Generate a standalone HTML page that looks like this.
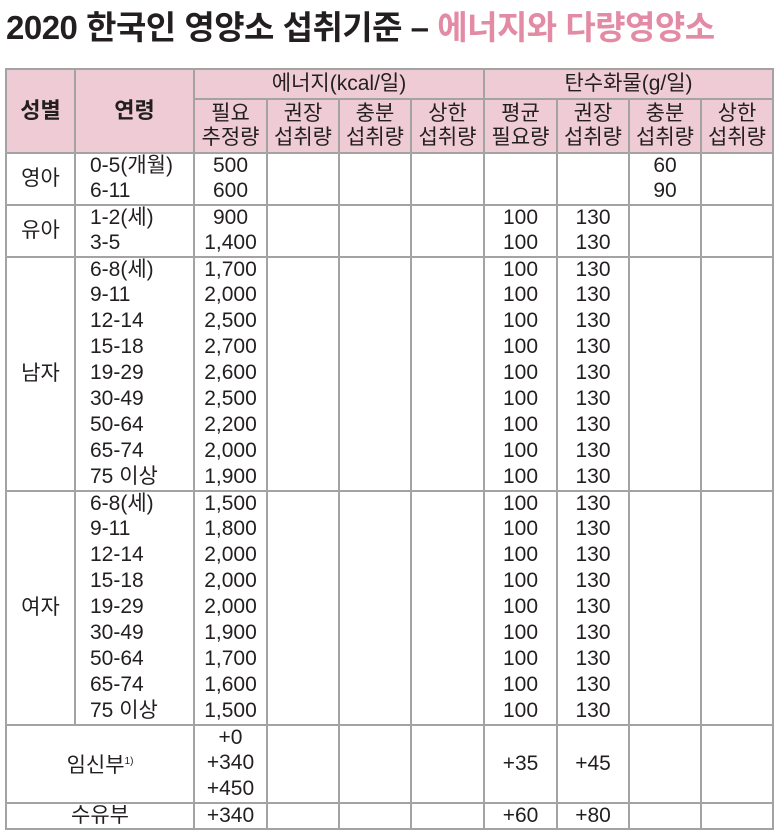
<!DOCTYPE html>
<html><head><meta charset="utf-8"><style>
body{margin:0;width:774px;height:828px;background:#fff;overflow:hidden;font-family:"Liberation Sans","Noto Sans CJK KR",sans-serif;color:#231f20}
h1{position:absolute;left:6px;top:1px;margin:0;font-size:33px;font-weight:bold;letter-spacing:-0.5px;white-space:nowrap}
h1 span{color:#e38aa5}
table{position:absolute;left:5px;top:68px;border-collapse:collapse;table-layout:fixed;font-size:21px}
td,th{border-left:2px solid #a3a3a3;border-right:2px solid #a3a3a3;padding:0;height:26px;line-height:24px;text-align:center;white-space:nowrap;overflow:hidden}
th{background:#eecbd5;font-weight:normal;border:2px solid #a3a3a3;line-height:24px}
tr.g td{border-top:2px solid #a3a3a3;height:24px}
tr.last td{border-bottom:2px solid #a3a3a3}
td.age{text-align:left;padding-left:14px}
.b{font-weight:bold;font-size:22px}
</style></head><body>
<h1>2020 한국인 영양소 섭취기준 – <span>에너지와 다량영양소</span></h1>
<table>
<colgroup><col style="width:69px"><col style="width:119px"><col style="width:73px"><col style="width:72px"><col style="width:72px"><col style="width:73px"><col style="width:73px"><col style="width:72px"><col style="width:72px"><col style="width:72px"></colgroup>
<tr style="height:30px"><th rowspan="2" class="b">성별</th><th rowspan="2" class="b">연령</th><th colspan="4" style="height:28px">에너지(kcal/일)</th><th colspan="4">탄수화물(g/일)</th></tr>
<tr style="height:54px"><th>필요<br>추정량</th><th>권장<br>섭취량</th><th>충분<br>섭취량</th><th>상한<br>섭취량</th><th>평균<br>필요량</th><th>권장<br>섭취량</th><th>충분<br>섭취량</th><th>상한<br>섭취량</th></tr>
<tbody id="body"></tbody>
</table>
<script>
const groups=[
 ["영아",[["0-5(개월)","500","","","60"],["6-11","600","","","90"]]],
 ["유아",[["1-2(세)","900","100","130",""],["3-5","1,400","100","130",""]]],
 ["남자",[["6-8(세)","1,700"],["9-11","2,000"],["12-14","2,500"],["15-18","2,700"],["19-29","2,600"],["30-49","2,500"],["50-64","2,200"],["65-74","2,000"],["75 이상","1,900"]]],
 ["여자",[["6-8(세)","1,500"],["9-11","1,800"],["12-14","2,000"],["15-18","2,000"],["19-29","2,000"],["30-49","1,900"],["50-64","1,700"],["65-74","1,600"],["75 이상","1,500"]]]
];
const tb=document.getElementById('body');
const bt='style="border-top:2px solid #a3a3a3"';
let h='';
groups.forEach(([sex,rows])=>{
 rows.forEach((r,i)=>{
  const avg=r.length>2?r[2]:"100", rec=r.length>2?r[3]:"130", ai=r.length>2?r[4]:"";
  h+=`<tr class="${i==0?'g':''}">`;
  if(i==0)h+=`<td rowspan="${rows.length}" ${bt}>${sex}</td>`;
  h+=`<td class="age">${r[0]}</td><td>${r[1]}</td><td></td><td></td><td></td><td>${avg}</td><td>${rec}</td><td>${ai}</td><td></td></tr>`;
 });
});
h+=`<tr class="g"><td colspan="2" rowspan="3" ${bt}>임신부<sup style="font-size:10px">1)</sup></td><td>+0</td>`;
for(let k=0;k<3;k++)h+=`<td rowspan="3" ${bt}></td>`;
h+=`<td rowspan="3" ${bt}>+35</td><td rowspan="3" ${bt}>+45</td><td rowspan="3" ${bt}></td><td rowspan="3" ${bt}></td></tr>`;
h+=`<tr><td>+340</td></tr><tr><td>+450</td></tr>`;
h+=`<tr class="g last"><td colspan="2">수유부</td><td>+340</td><td></td><td></td><td></td><td>+60</td><td>+80</td><td></td><td></td></tr>`;
tb.innerHTML=h;
tb.querySelectorAll('tr').forEach(tr=>{
 
 
});
</script>
</body></html>
